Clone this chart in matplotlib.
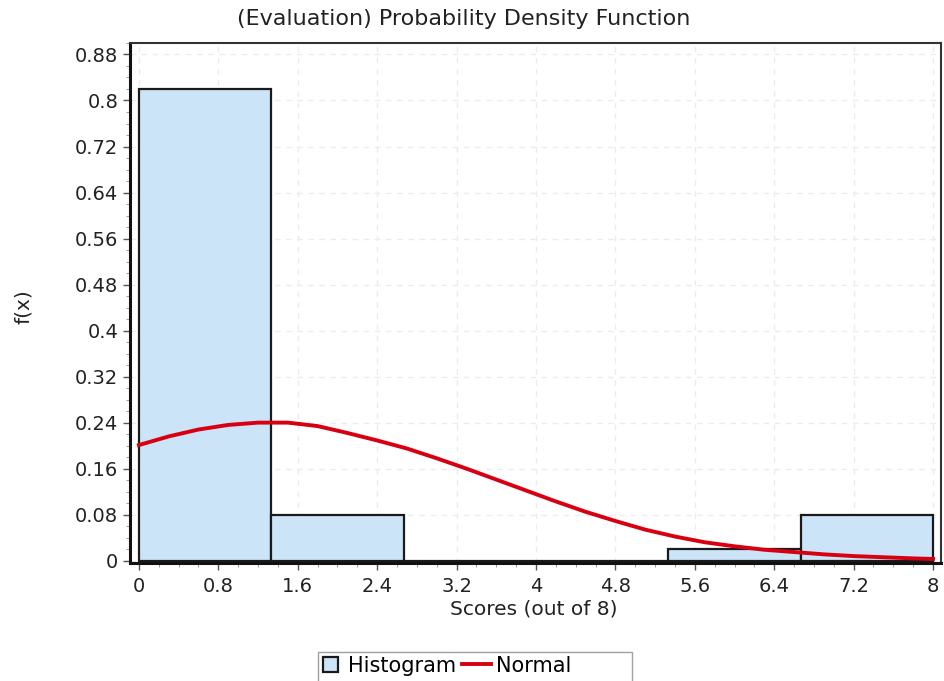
import matplotlib.pyplot as plt
from matplotlib.ticker import MultipleLocator
from matplotlib.patches import Rectangle
from matplotlib.legend_handler import HandlerPatch
import numpy as np

plt.rcParams['font.family'] = ['DejaVu Sans']

# histogram bins (8 / 6 wide) and density heights
bin_edges = [0, 4/3, 8/3, 4, 16/3, 20/3, 8]
bin_heights = [0.82, 0.08, 0.0, 0.0, 0.02, 0.08]

# normal curve
normal_x = [0.0, 0.3, 0.6, 0.9, 1.2, 1.5, 1.8, 2.1, 2.4, 2.7, 3.0, 3.3, 3.6,
            3.9, 4.2, 4.5, 4.8, 5.1, 5.4, 5.7, 6.0, 6.3, 6.6, 6.9, 7.2, 7.5,
            7.8, 8.0]
normal_y = [0.201, 0.216, 0.228, 0.236, 0.240, 0.240, 0.234, 0.222, 0.209,
            0.195, 0.178, 0.160, 0.141, 0.122, 0.103, 0.085, 0.069, 0.054,
            0.042, 0.032, 0.025, 0.019, 0.015, 0.011, 0.008, 0.006, 0.004,
            0.003]

x_ticks = [round(0.8 * i, 1) for i in range(11)]
y_ticks = [round(0.08 * i, 2) for i in range(12)]


def small_square(legend, orig_handle, xdescent, ydescent, width, height,
                 fontsize):
    # square legend box, shorter than the line handle
    s = height * 0.95
    return Rectangle((-xdescent + width - s - 4, -ydescent + (height - s) / 2),
                     s, s)


fig = plt.figure(figsize=(9.44, 6.81), dpi=100)
ax = fig.add_axes([0.1377, 0.1733, 0.8591, 0.7636])

widths = np.diff(bin_edges)
bars = ax.bar(bin_edges[:-1], bin_heights, width=widths, align='edge',
              color='#cce4f8', edgecolor='#1a1a1a', linewidth=1.6,
              label='Histogram', zorder=2)
line, = ax.plot(normal_x, normal_y, color='#d80010', linewidth=2.8,
                label='Normal', zorder=3)

ax.set_xlim(-0.09, 8.08)
ax.set_ylim(-0.004, 0.9)
ax.set_xticks(x_ticks)
ax.set_xticklabels(['%g' % v for v in x_ticks])
ax.set_yticks(y_ticks)
ax.set_yticklabels(['%g' % v for v in y_ticks])
ax.xaxis.set_minor_locator(MultipleLocator(0.2))
ax.yaxis.set_minor_locator(MultipleLocator(0.02))

ax.tick_params(axis='both', which='major', labelsize=14, colors='#555555',
               labelcolor='#222222', length=5, width=1)
ax.tick_params(axis='x', which='major', pad=5)
ax.tick_params(axis='both', which='minor', colors='#888888', length=3)
ax.grid(True, which='major', linestyle=(0, (4, 4)), color='#ececec',
        linewidth=1, zorder=0)
ax.set_axisbelow(True)

for s in ['top', 'right']:
    ax.spines[s].set_linewidth(1.5)
    ax.spines[s].set_color('#333333')
for s in ['left', 'bottom']:
    ax.spines[s].set_linewidth(2.2)
    ax.spines[s].set_color('#111111')

fig.text(534 / 944, 1 - 609 / 681, 'Scores (out of 8)', ha='center',
         va='center', fontsize=14.5, color='#222222')
fig.text(23 / 944, 1 - 307 / 681, 'f(x)', ha='center', va='center',
         rotation=90, fontsize=14.5, color='#222222')
fig.text(464 / 944, 1 - 19 / 681, '(Evaluation) Probability Density Function',
         ha='center', va='center', fontsize=16, color='#222222')

leg = fig.legend([bars[0], line], ['Histogram', 'Normal'], loc='center left',
                 bbox_to_anchor=(300 / 944, 1 - 666 / 681), ncol=2,
                 fontsize=15, frameon=False, handlelength=1.4,
                 handleheight=0.8, handletextpad=0.2, columnspacing=0.3,
                 borderpad=0.2,
                 handler_map={bars[0]: HandlerPatch(patch_func=small_square)})
fig.patches.append(Rectangle((318 / 944, -0.01), 314 / 944, 0.053,
                             transform=fig.transFigure, fill=False,
                             edgecolor='#a0a0a0', linewidth=1.0))

fig.savefig('out.png', dpi=100)
